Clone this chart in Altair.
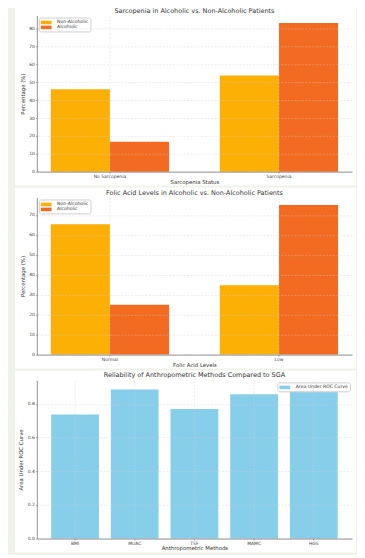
import altair as alt
import pandas as pd

FONT = "DejaVu Sans"

# ---- data ----
groups = ["Non-Alcoholic", "Alcoholic"]

sarc_categories = ["No Sarcopenia", "Sarcopenia"]
sarc_non_alcoholic = [46.2, 53.8]
sarc_alcoholic = [16.7, 83.3]

folic_categories = ["Normal", "Low"]
folic_non_alcoholic = [65.3, 34.7]
folic_alcoholic = [25.0, 75.0]

methods = ["BMI", "MUAC", "TSF", "MAMC", "HGS"]
auc_values = [0.737, 0.886, 0.770, 0.857, 0.895]
auc_series = "Area Under ROC Curve"

sarc_yticks = [0, 10, 20, 30, 40, 50, 60, 70, 80]
folic_yticks = [0, 10, 20, 30, 40, 50, 60, 70]
auc_yticks = [0.0, 0.2, 0.4, 0.6, 0.8]

group_colors = ["#FCAF05", "#F26B21"]
auc_color = "#87CEEB"

W = 317
SYMBOL = "M-1.8,-0.6H1.8V0.6H-1.8Z"


def legend(orient):
    return alt.Legend(
        title=None, orient=orient, offset=2, symbolType=SYMBOL, symbolSize=36,
        symbolStrokeWidth=0, symbolOffset=2.4, labelOffset=8.0, padding=2,
        rowPadding=0, labelFont=FONT, labelFontSize=4.6, labelColor="#333",
        fillColor="white", strokeColor="#d0d0d0", cornerRadius=2,
    )


def x_axis(title):
    return alt.Axis(title=title, labelAngle=0, grid=True, bandPosition=0.5, zindex=1,
                    labelPadding=0.5, titlePadding=1)


def y_axis(title, values, fmt):
    return alt.Axis(title=title, values=values, format=fmt, zindex=1,
                    labelPadding=1, titlePadding=3.5)


def background(y, y2):
    return alt.Chart(alt.Data(values=[{"a": 1}])).mark_rect(color="white").encode(
        x=alt.value(-22), x2=alt.value(W + 4), y=alt.value(y), y2=alt.value(y2)
    )


def title_text(text, y):
    return alt.Chart(alt.Data(values=[{"a": 1}])).mark_text(
        text=text, font=FONT, fontSize=6.5, color="#333", baseline="middle"
    ).encode(x=alt.value(W / 2), y=alt.value(y))


def grouped_panel(cats, nonalc, alc, title, xtitle, yticks, height, rect_y, rect_y2):
    df = pd.DataFrame({
        "category": list(cats) * 2,
        "group": [groups[0]] * len(cats) + [groups[1]] * len(cats),
        "value": list(nonalc) + list(alc),
    })
    ymax = max(max(nonalc), max(alc)) * 1.05
    bars = alt.Chart(df).mark_bar().encode(
        x=alt.X("category:N", sort=list(cats),
                scale=alt.Scale(paddingInner=0.3, paddingOuter=0.0825),
                axis=x_axis(xtitle)),
        xOffset=alt.XOffset("group:N", sort=groups,
                            scale=alt.Scale(paddingInner=0, paddingOuter=0)),
        y=alt.Y("value:Q", scale=alt.Scale(domain=[0, ymax], nice=False),
                axis=y_axis("Percentage (%)", yticks, "d")),
        color=alt.Color("group:N", sort=groups,
                        scale=alt.Scale(domain=groups, range=group_colors),
                        legend=legend("top-left")),
    )
    return alt.layer(background(rect_y, rect_y2), bars, title_text(title, -4.7)).properties(
        width=W, height=height
    )


p1 = grouped_panel(sarc_categories, sarc_non_alcoholic, sarc_alcoholic,
                   "Sarcopenia in Alcoholic vs. Non-Alcoholic Patients",
                   "Sarcopenia Status", sarc_yticks, 157, -10, 171)
p2 = grouped_panel(folic_categories, folic_non_alcoholic, folic_alcoholic,
                   "Folic Acid Levels in Alcoholic vs. Non-Alcoholic Patients",
                   "Folic Acid Levels", folic_yticks, 158, -10, 172)

df3 = pd.DataFrame({"method": methods, "auc": auc_values,
                    "series": [auc_series] * len(methods)})
bars3 = alt.Chart(df3).mark_bar().encode(
    x=alt.X("method:N", sort=methods,
            scale=alt.Scale(paddingInner=0.2, paddingOuter=0.24),
            axis=x_axis("Anthropometric Methods")),
    y=alt.Y("auc:Q", scale=alt.Scale(domain=[0, max(auc_values) * 1.05], nice=False),
            axis=y_axis("Area Under ROC Curve", auc_yticks, ".1f")),
    color=alt.Color("series:N", scale=alt.Scale(domain=[auc_series], range=[auc_color]),
                    legend=legend("top-right")),
)
p3 = alt.layer(background(-10, 173), bars3,
               title_text("Reliability of Anthropometric Methods Compared to SGA", -5)).properties(
    width=W, height=159
)

chart = alt.vconcat(p1, p2, p3, spacing=0).resolve_scale(
    color="independent"
).properties(
    background="#EEF2E8",
    padding={"left": 6, "top": -5, "right": 0, "bottom": 0},
).configure_view(stroke="transparent").configure_axis(
    labelFont=FONT, titleFont=FONT, labelFontSize=4.5, titleFontSize=5.4,
    labelColor="#444", titleColor="#333", titleFontWeight="normal",
    domainColor="#777", domainWidth=0.8, tickColor="#777", tickSize=1.5, tickWidth=0.6,
    gridColor="#cfcfcf", gridDash=[2, 1.5], gridWidth=0.5, gridOpacity=0.8,
)

chart.save("out.html", embed_options={"renderer": "svg", "actions": False})
